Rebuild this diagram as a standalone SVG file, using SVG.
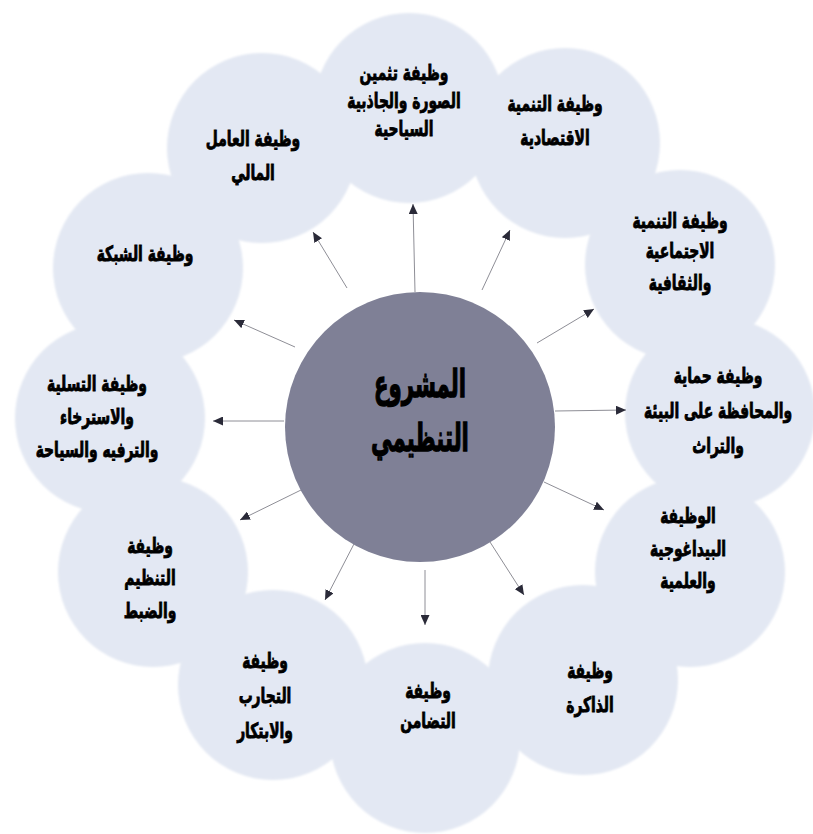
<svg xmlns="http://www.w3.org/2000/svg" width="813" height="834" viewBox="0 0 813 834">
  <style>
    .ring { fill: #E3E8F3; }
    .hub { fill: #7F8096; }
    .lbl { font-family: "DejaVu Sans", "Noto Sans", sans-serif; font-weight: bold; font-size: 21px; fill: #000; stroke: #000; stroke-width: 0.9; text-anchor: middle; }
    .hubt { font-family: "DejaVu Sans", "Noto Sans", sans-serif; font-weight: bold; font-size: 38px; fill: #000; stroke: #000; stroke-width: 1.3; text-anchor: middle; }
    .conn { stroke: #8E8E96; stroke-width: 1; fill: none; marker-end: url(#ah); }
  </style>
  <defs>
    <filter id="soft" x="-10%" y="-10%" width="120%" height="120%">
      <feGaussianBlur stdDeviation="1.2"/>
    </filter>
    <marker id="ah" markerUnits="userSpaceOnUse" markerWidth="11" markerHeight="9" refX="10" refY="4.5" orient="auto">
      <path d="M0,0 L10,4.5 L0,9 Z" fill="#2A2A38"/>
    </marker>
  </defs>
  <rect width="813" height="834" fill="#FFFFFF"/>

  <g id="rings" filter="url(#soft)">
    <circle class="ring" cx="409" cy="108" r="95"/>
    <circle class="ring" cx="565" cy="143" r="95"/>
    <circle class="ring" cx="680" cy="265" r="95"/>
    <circle class="ring" cx="720" cy="413" r="95"/>
    <circle class="ring" cx="690" cy="572" r="95"/>
    <circle class="ring" cx="583" cy="680" r="95"/>
    <circle class="ring" cx="425" cy="738" r="95"/>
    <circle class="ring" cx="273" cy="685" r="95"/>
    <circle class="ring" cx="153" cy="572" r="95"/>
    <circle class="ring" cx="110" cy="418" r="95"/>
    <circle class="ring" cx="148" cy="268" r="95"/>
    <circle class="ring" cx="262" cy="148" r="95"/>
  </g>

  <g id="connectors">
    <line class="conn" x1="415" y1="292" x2="413" y2="204"/>
    <line class="conn" x1="482" y1="290" x2="510" y2="230"/>
    <line class="conn" x1="537" y1="343" x2="594" y2="309"/>
    <line class="conn" x1="555" y1="411" x2="626" y2="410"/>
    <line class="conn" x1="544" y1="482" x2="604" y2="510"/>
    <line class="conn" x1="490" y1="542" x2="524" y2="595"/>
    <line class="conn" x1="425" y1="570" x2="425" y2="625"/>
    <line class="conn" x1="355" y1="542" x2="325" y2="600"/>
    <line class="conn" x1="301" y1="490" x2="240" y2="520"/>
    <line class="conn" x1="284" y1="421" x2="213" y2="421"/>
    <line class="conn" x1="295" y1="347" x2="234" y2="320"/>
    <line class="conn" x1="347" y1="288" x2="313" y2="232"/>
  </g>

  <g id="hub">
    <circle class="hub" cx="420" cy="427" r="135"/>
    <g transform="translate(420 0) scale(0.56 1)">
      <text class="hubt" x="0" y="397">المشروع</text>
      <text class="hubt" x="0" y="451">التنظيمي</text>
    </g>
  </g>

  <g id="n-top" transform="translate(404 0) scale(0.66 1)">
    <text class="lbl" x="0" y="80">وظيفة تثمين</text>
    <text class="lbl" x="0" y="108">الصورة والجاذبية</text>
    <text class="lbl" x="0" y="136">السياحية</text>
  </g>
  <g id="n-economic" transform="translate(555 0) scale(0.66 1)">
    <text class="lbl" x="0" y="111">وظيفة التنمية</text>
    <text class="lbl" x="0" y="145">الاقتصادية</text>
  </g>
  <g id="n-social" transform="translate(680 0) scale(0.66 1)">
    <text class="lbl" x="0" y="228">وظيفة التنمية</text>
    <text class="lbl" x="0" y="258">الاجتماعية</text>
    <text class="lbl" x="0" y="290">والثقافية</text>
  </g>
  <g id="n-environment" transform="translate(718 0) scale(0.66 1)">
    <text class="lbl" x="0" y="383">وظيفة حماية</text>
    <text class="lbl" x="0" y="418">والمحافظة على البيئة</text>
    <text class="lbl" x="0" y="453">والتراث</text>
  </g>
  <g id="n-pedagogy" transform="translate(688 0) scale(0.66 1)">
    <text class="lbl" x="0" y="523">الوظيفة</text>
    <text class="lbl" x="0" y="556">البيداغوجية</text>
    <text class="lbl" x="0" y="588">والعلمية</text>
  </g>
  <g id="n-memory" transform="translate(590 0) scale(0.66 1)">
    <text class="lbl" x="0" y="678">وظيفة</text>
    <text class="lbl" x="0" y="712">الذاكرة</text>
  </g>
  <g id="n-solidarity" transform="translate(428 0) scale(0.66 1)">
    <text class="lbl" x="0" y="698">وظيفة</text>
    <text class="lbl" x="0" y="728">التضامن</text>
  </g>
  <g id="n-experiments" transform="translate(265 0) scale(0.66 1)">
    <text class="lbl" x="0" y="668">وظيفة</text>
    <text class="lbl" x="0" y="703">التجارب</text>
    <text class="lbl" x="0" y="738">والابتكار</text>
  </g>
  <g id="n-regulation" transform="translate(150 0) scale(0.66 1)">
    <text class="lbl" x="0" y="553">وظيفة</text>
    <text class="lbl" x="0" y="585">التنظيم</text>
    <text class="lbl" x="0" y="618">والضبط</text>
  </g>
  <g id="n-leisure" transform="translate(97 0) scale(0.66 1)">
    <text class="lbl" x="0" y="391">وظيفة التسلية</text>
    <text class="lbl" x="0" y="424">والاسترخاء</text>
    <text class="lbl" x="0" y="457">والترفيه والسياحة</text>
  </g>
  <g id="n-network" transform="translate(145 0) scale(0.66 1)">
    <text class="lbl" x="0" y="261">وظيفة الشبكة</text>
  </g>
  <g id="n-financial" transform="translate(253 0) scale(0.66 1)">
    <text class="lbl" x="0" y="146">وظيفة العامل</text>
    <text class="lbl" x="0" y="180">المالي</text>
  </g>
</svg>
